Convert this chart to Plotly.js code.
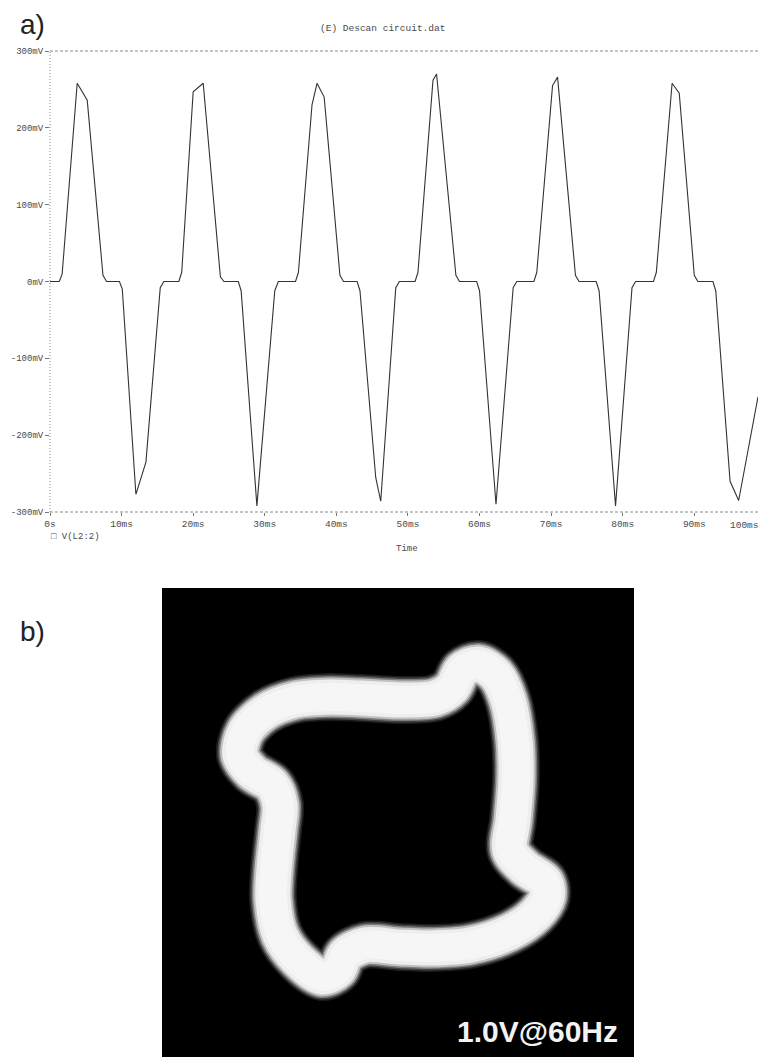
<!DOCTYPE html>
<html>
<head>
<meta charset="utf-8">
<script src="https://cdn.plot.ly/plotly-3.0.1.min.js"></script>
<style>html,body{margin:0;padding:0;background:#fff;}#chart{width:758px;height:1057px;}</style>
</head>
<body>
<div id="chart"></div>
<script>
// ---- Panel a) : V(L2:2) versus time ----
var timeMs = [0, 1.3, 1.7, 3.8, 5.2, 7.4, 7.9, 9.7, 10.1, 12.0, 13.4, 15.4, 15.9,
  18.0, 18.4, 20.0, 21.4, 23.8, 24.3, 26.3, 26.7, 28.9, 31.4, 31.9,
  34.3, 34.7, 36.6, 37.3, 38.3, 40.5, 41.0, 42.9, 43.3, 45.5, 46.2, 48.3, 48.8,
  51.0, 51.4, 53.5, 54.0, 56.7, 57.2, 59.6, 60.0, 62.3, 64.7, 65.2,
  67.6, 68.0, 70.2, 70.9, 73.4, 73.9, 76.3, 76.7, 79.0, 81.3, 81.8,
  84.3, 84.7, 86.9, 87.9, 90.0, 90.5, 92.6, 93.0, 95.0, 96.2, 98.9];
var voltageMv = [0, 0, 10, 258, 236, 8, 0, 0, -10, -277, -235, -8, 0,
  0, 12, 247, 258, 6, 0, 0, -12, -292, -12, 0,
  0, 12, 230, 258, 240, 8, 0, 0, -12, -255, -286, -8, 0,
  0, 12, 262, 270, 8, 0, 0, -12, -290, -8, 0,
  0, 12, 255, 266, 8, 0, 0, -12, -292, -8, 0,
  0, 12, 258, 245, 8, 0, 0, -12, -260, -285, -150];
var xTickVals = [0, 10, 20, 30, 40, 50, 60, 70, 80, 90];
var xTickText = ['0s', '10ms', '20ms', '30ms', '40ms', '50ms', '60ms', '70ms', '80ms', '90ms'];
var yTickVals = [-300, -200, -100, 0, 100, 200, 300];
var yTickText = ['-300mV', '-200mV', '-100mV', '0mV', '100mV', '200mV', '300mV'];

// ---- Panel b) : centre line of the glowing figure (image pixel units) ----
var ringX = [360, 400, 435, 452, 462, 478, 496, 508, 515, 516, 513, 510, 525, 545, 547, 535, 510, 470, 430, 400,
  365, 345, 338, 322, 298, 280, 273, 274, 278, 280, 272, 252, 240, 245, 265, 295, 330, 360];
var ringY = [698, 700, 698, 688, 670, 664, 675, 700, 740, 780, 820, 850, 868, 882, 897, 915, 932, 945, 948, 947,
  945, 955, 970, 977, 960, 935, 900, 870, 830, 805, 785, 772, 755, 732, 712, 700, 697, 698];

var W = 758, H = 1057;
var px = function (v) { return v / W; };
var py = function (v) { return 1 - v / H; };

var mono = 'Liberation Mono, Courier New, monospace';
var grey = '#4a4a4a';

function ringLayer(color, width) {
  return {x: ringX, y: ringY, xaxis: 'x2', yaxis: 'y2', type: 'scatter', mode: 'lines',
    line: {color: color, width: width, shape: 'spline', smoothing: 0.9}, hoverinfo: 'skip', showlegend: false};
}

var traces = [
  {x: timeMs, y: voltageMv, xaxis: 'x', yaxis: 'y', type: 'scatter', mode: 'lines',
   line: {color: '#333', width: 1.1}, hoverinfo: 'skip', showlegend: false},
  ringLayer('rgba(255,255,255,0.10)', 48),
  ringLayer('rgba(255,255,255,0.18)', 45),
  ringLayer('rgba(255,255,255,0.30)', 42),
  ringLayer('rgba(250,250,250,0.55)', 39),
  ringLayer('#eeeeee', 35),
  ringLayer('#f6f6f6', 28)
];

function note(text, x, y, size, extra) {
  var a = {text: text, xref: 'paper', yref: 'paper', x: x, y: y, xanchor: 'center', yanchor: 'middle',
    showarrow: false, font: {family: mono, size: size, color: grey}};
  for (var k in (extra || {})) a[k] = extra[k];
  return a;
}

var layout = {
  width: W, height: H,
  margin: {l: 0, r: 0, t: 0, b: 0},
  paper_bgcolor: '#fff', plot_bgcolor: 'rgba(0,0,0,0)',
  showlegend: false,
  xaxis: {domain: [px(50), 1], range: [0, 98.9], anchor: 'y', showgrid: false, zeroline: false, showline: false,
    tickmode: 'array', tickvals: xTickVals, ticktext: xTickText, ticks: 'outside', ticklen: 3, tickcolor: '#777',
    tickfont: {family: mono, size: 9.5, color: grey}},
  yaxis: {domain: [py(512), py(51)], range: [-300, 300], anchor: 'x', showgrid: false, zeroline: false, showline: false,
    tickmode: 'array', tickvals: yTickVals, ticktext: yTickText, ticks: 'outside', ticklen: 4, tickcolor: '#777',
    tickfont: {family: mono, size: 9, color: grey}},
  xaxis2: {domain: [px(162), px(634)], range: [162, 634], anchor: 'y2', visible: false, fixedrange: true},
  yaxis2: {domain: [0, py(588)], range: [1057, 588], anchor: 'x2', visible: false, fixedrange: true},
  shapes: [
    {type: 'rect', xref: 'paper', yref: 'paper', x0: px(162), x1: px(634), y0: 0, y1: py(588),
     fillcolor: '#000', line: {width: 0}, layer: 'below'},
    {type: 'line', xref: 'paper', yref: 'paper', x0: px(50), x1: 1, y0: py(51), y1: py(51),
     line: {color: '#8a8a8a', width: 1, dash: '3px,2px'}},
    {type: 'line', xref: 'paper', yref: 'paper', x0: px(50), x1: 1, y0: py(512), y1: py(512),
     line: {color: '#8a8a8a', width: 1, dash: '3px,2px'}},
    {type: 'line', xref: 'paper', yref: 'paper', x0: px(50), x1: px(50), y0: py(512), y1: py(51),
     line: {color: '#8a8a8a', width: 1, dash: '1px,2px'}}
  ],
  annotations: [
    note('a)', px(32), py(24), 28, {font: {family: 'Liberation Sans, Arial, sans-serif', size: 28, color: '#222'}}),
    note('b)', px(32), py(631), 28, {font: {family: 'Liberation Sans, Arial, sans-serif', size: 28, color: '#222'}}),
    note('(E) Descan circuit.dat', px(382), py(29), 9.5),
    note('100ms', px(728), py(525), 9.5, {xanchor: 'left'}),
    note('\u25A1 V(L2:2)', px(49), py(537), 9, {xanchor: 'left'}),
    note('Time', px(407), py(549), 9),
    {text: '<b>1.0V@60Hz</b>', xref: 'x2', yref: 'y2', x: 537, y: 1031, xanchor: 'center', yanchor: 'middle',
     showarrow: false, font: {family: 'Liberation Sans, Arial, sans-serif', size: 30, color: '#f2f2f2'}}
  ]
};

Plotly.newPlot('chart', traces, layout, {staticPlot: true, displayModeBar: false});
</script>
</body>
</html>
